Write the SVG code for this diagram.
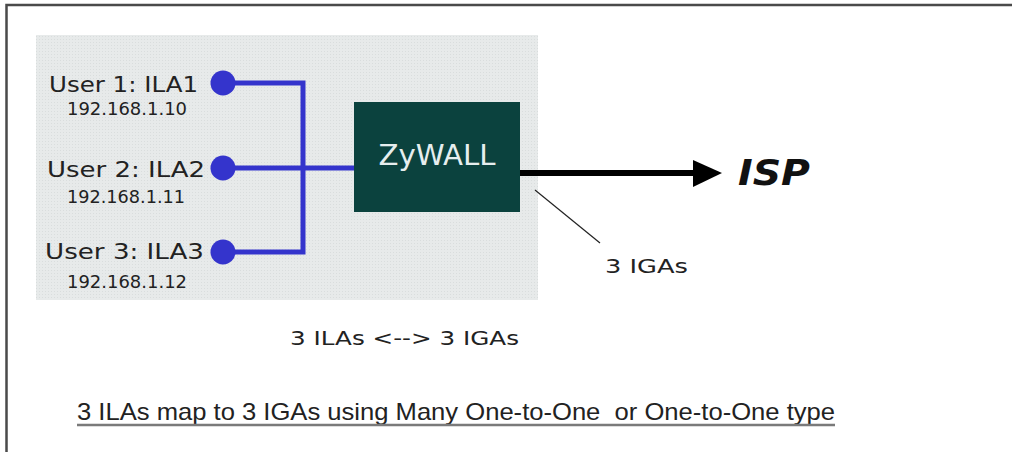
<svg xmlns="http://www.w3.org/2000/svg" width="1012" height="452" viewBox="0 0 1012 452">
  <style>
    .lbl { font-family: "DejaVu Sans", "Liberation Sans", sans-serif; fill: #222; }
    .user { font-size: 22px; }
    .ip { font-size: 18px; }
    .wire { stroke: #3434cc; stroke-width: 5; fill: none; }
    .dot { fill: #3434cc; }
  </style>
  <defs>
    <pattern id="dots" width="3" height="3" patternUnits="userSpaceOnUse">
      <rect width="3" height="3" fill="#e7eaea"/>
      <rect width="1" height="1" fill="#d9dddd"/>
    </pattern>
  </defs>
  <rect width="1012" height="452" fill="#ffffff"/>
  <!-- outer frame -->
  <path d="M6.5,460 L6.5,5 L1012,5" fill="none" stroke="#4a4a4a" stroke-width="2.5"/>
  <!-- panel -->
  <rect x="36" y="35" width="502" height="265" fill="url(#dots)"/>

  <g id="connectors">
    <path class="wire" d="M223,83 L303,83 L303,252 L223,252"/>
    <path class="wire" d="M223,168 L354,168"/>
    <line x1="520" y1="173" x2="696" y2="173" stroke="#000" stroke-width="6"/>
    <polygon points="693,160 722,173 693,187" fill="#000"/>
    <line x1="535" y1="190" x2="600" y2="243" stroke="#222" stroke-width="1.2"/>
  </g>

  <g id="user1">
    <circle class="dot" cx="223" cy="83" r="12.5"/>
    <text class="lbl user" x="198" y="92" text-anchor="end" textLength="149" lengthAdjust="spacingAndGlyphs">User 1: ILA1</text>
    <text class="lbl ip" x="127" y="115" text-anchor="middle" textLength="120" lengthAdjust="spacingAndGlyphs">192.168.1.10</text>
  </g>
  <g id="user2">
    <circle class="dot" cx="223" cy="168" r="12.5"/>
    <text class="lbl user" x="205" y="177" text-anchor="end" textLength="158" lengthAdjust="spacingAndGlyphs">User 2: ILA2</text>
    <text class="lbl ip" x="126" y="203" text-anchor="middle" textLength="118" lengthAdjust="spacingAndGlyphs">192.168.1.11</text>
  </g>
  <g id="user3">
    <circle class="dot" cx="223" cy="252" r="12.5"/>
    <text class="lbl user" x="204" y="259" text-anchor="end" textLength="159" lengthAdjust="spacingAndGlyphs">User 3: ILA3</text>
    <text class="lbl ip" x="127" y="288" text-anchor="middle" textLength="120" lengthAdjust="spacingAndGlyphs">192.168.1.12</text>
  </g>

  <g id="zywall">
    <rect x="354" y="102" width="166" height="110" fill="#0b423e"/>
    <text x="437" y="165" text-anchor="middle" font-family="DejaVu Sans, sans-serif" font-size="28" fill="#e6eeee" textLength="117" lengthAdjust="spacingAndGlyphs">ZyWALL</text>
  </g>

  <g id="isp">
    <text x="738" y="185" font-family="DejaVu Sans, sans-serif" font-size="36" font-weight="bold" font-style="italic" fill="#111" textLength="72" lengthAdjust="spacingAndGlyphs">ISP</text>
  </g>

  <text class="lbl" x="605" y="273" font-size="20" textLength="83" lengthAdjust="spacingAndGlyphs">3 IGAs</text>
  <text class="lbl" x="290" y="345" font-size="20" textLength="229" lengthAdjust="spacingAndGlyphs">3 ILAs &lt;--&gt; 3 IGAs</text>

  <text x="77" y="420" xml:space="preserve" font-family="Liberation Sans, Arial, sans-serif" font-size="24" fill="#222" textLength="758" lengthAdjust="spacingAndGlyphs">3 ILAs map to 3 IGAs using Many One-to-One  or One-to-One type</text>
  <line x1="77" y1="425" x2="835" y2="425" stroke="#7a7a7a" stroke-width="2.5"/>
</svg>
